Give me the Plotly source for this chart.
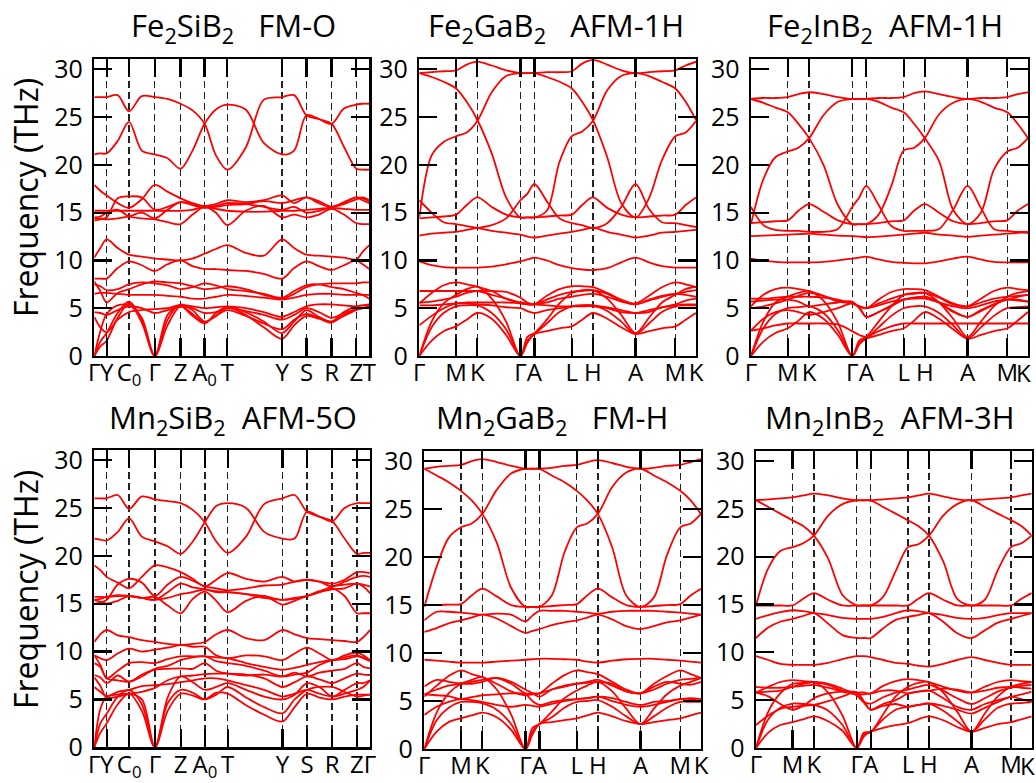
import plotly.graph_objects as go

# ---------------- k-paths (arbitrary path-length units) ----------------
HEX_TICKS = [0, 110, 174, 303, 345, 457, 520, 648, 767, 829]
HEX_LABELS = ["Γ", "M", "K", "Γ", "A", "L", "H", "A", "M", "K"]
HEX_LABELS_EDGE = ["Γ", "M", "K", "Γ", "A", "L", "H", "A", "M", ""]
EDGE_LABEL = "K"
HEX_S = [0, 37, 73, 110, 142, 174, 217, 260, 303, 324, 345, 382, 420, 457,
         488, 520, 563, 605, 648, 688, 727, 767, 798, 829]

ORTHO_TICKS = [0, 37, 104, 181, 258, 330, 398, 562, 635, 710, 784, 823]
ORTHO_LABELS_TOP = ["Γ", "Y", "C<sub>0</sub>", "Γ", "Z", "A<sub>0</sub>", "T", "Y", "S", "R", "Z", "T"]
ORTHO_LABELS_BOT = ["Γ", "Y", "C<sub>0</sub>", "Γ", "Z", "A<sub>0</sub>", "T", "Y", "S", "R", "Z", "Γ"]
ORTHO_S = [0, 18, 37, 70, 104, 142, 181, 219, 258, 294, 330, 364, 398, 453,
           507, 562, 598, 635, 672, 710, 747, 784, 803, 823]

# ---------------- band frequencies (THz) ----------------
FE2SIB2_BANDS = [
    [27.1, 27.1, 27.1, 27.3, 25.6, 27.2, 27.1, 26.9, 26.4, 25.7, 24.3, 21.0, 19.5, 21.8, 26.8, 27.1, 27.3, 25.2, 24.8, 24.3, 25.9, 26.3, 26.4, 26.4],
    [21.1, 21.2, 21.2, 22.5, 24.5, 21.5, 21.1, 20.7, 19.6, 21.5, 24.3, 25.8, 26.3, 25.8, 22.3, 21.1, 21.5, 25.2, 24.8, 24.3, 21.9, 19.6, 19.5, 19.5],
    [17.9, 17.3, 16.8, 16.0, 15.5, 16.4, 17.9, 17.2, 16.5, 16.0, 15.7, 15.9, 16.3, 16.1, 16.3, 16.8, 16.0, 16.6, 16.0, 15.6, 15.9, 16.4, 16.6, 16.3],
    [14.2, 14.3, 14.5, 16.5, 16.7, 16.6, 15.3, 15.6, 16.1, 15.9, 15.6, 15.7, 16.0, 15.9, 15.6, 15.3, 15.6, 15.0, 15.2, 15.6, 16.0, 16.6, 16.3, 16.0],
    [15.2, 15.2, 15.2, 15.2, 15.2, 15.2, 15.2, 15.2, 15.2, 15.3, 15.6, 15.4, 15.2, 15.1, 15.1, 15.2, 15.2, 15.3, 15.4, 15.5, 15.4, 15.3, 15.3, 15.3],
    [14.5, 14.6, 15.0, 15.3, 14.6, 14.4, 14.3, 14.0, 13.8, 14.8, 15.6, 15.0, 13.7, 15.2, 15.7, 14.5, 14.8, 14.5, 14.8, 15.4, 14.8, 13.9, 13.8, 13.8],
    [14.4, 14.4, 14.3, 14.4, 14.6, 15.0, 14.4, 15.3, 16.1, 15.8, 15.5, 15.6, 15.8, 15.9, 16.2, 16.0, 16.3, 16.6, 16.2, 15.6, 16.1, 16.6, 16.5, 16.2],
    [10.3, 11.3, 12.2, 11.3, 10.6, 10.4, 10.2, 10.1, 10.0, 10.2, 10.7, 11.2, 11.6, 10.8, 10.5, 12.2, 11.3, 10.6, 10.5, 10.4, 10.3, 10.1, 10.9, 11.6],
    [8.1, 8.1, 8.1, 9.2, 9.9, 9.5, 8.9, 9.6, 10.0, 9.4, 9.1, 9.1, 9.0, 8.9, 8.6, 8.1, 9.2, 9.9, 9.4, 9.0, 9.5, 10.0, 9.6, 9.1],
    [7.8, 6.8, 5.6, 6.6, 7.0, 7.5, 7.8, 7.7, 7.6, 7.3, 7.0, 7.1, 7.3, 7.0, 6.4, 6.0, 6.5, 7.2, 7.5, 7.6, 7.6, 7.6, 7.7, 7.7],
    [6.5, 6.6, 6.6, 6.5, 6.4, 6.4, 6.4, 6.3, 6.2, 6.0, 6.0, 6.2, 6.4, 6.3, 6.1, 5.9, 6.1, 6.4, 6.5, 6.5, 6.4, 6.4, 6.4, 6.4],
    [0.0, 1.0, 1.6, 4.0, 5.5, 3.5, 0.0, 3.2, 5.2, 4.2, 3.4, 4.5, 5.1, 4.3, 3.0, 1.8, 3.2, 4.2, 3.9, 3.5, 4.3, 4.9, 5.0, 5.1],
    [0.0, 1.5, 2.4, 4.5, 5.7, 3.8, 0.0, 3.8, 5.4, 4.8, 3.6, 4.2, 5.1, 4.6, 3.6, 2.4, 3.6, 4.8, 4.1, 3.6, 4.6, 5.2, 5.3, 5.3],
    [0.0, 2.6, 4.4, 5.3, 5.3, 4.0, 0.0, 4.3, 5.3, 5.2, 5.0, 5.1, 5.2, 5.0, 4.6, 4.1, 4.6, 5.2, 5.4, 5.4, 5.3, 5.2, 5.3, 5.4],
    [4.6, 4.5, 4.3, 4.8, 5.2, 5.0, 4.5, 4.8, 5.2, 5.0, 4.5, 4.6, 5.0, 4.7, 4.3, 3.8, 4.3, 5.0, 4.6, 4.0, 4.5, 4.9, 5.0, 5.2],
    [7.5, 7.3, 6.9, 7.0, 7.5, 7.7, 7.6, 7.4, 7.0, 7.2, 7.6, 7.4, 7.0, 6.8, 6.5, 6.1, 6.8, 7.4, 7.5, 7.2, 7.0, 6.6, 6.4, 6.0],
    [4.1, 3.0, 2.5, 3.8, 4.6, 4.8, 4.9, 5.0, 5.3, 4.4, 3.5, 4.2, 4.8, 4.2, 3.4, 2.8, 3.8, 4.4, 4.0, 3.6, 4.2, 4.8, 5.0, 5.2],
]

MN2SIB2_BANDS = [
    [26.0, 26.0, 26.0, 26.35, 24.9, 26.2, 25.9, 25.7, 25.5, 24.8, 23.5, 21.5, 20.3, 22.0, 25.4, 26.0, 26.35, 24.6, 24.1, 23.6, 25.0, 25.5, 25.5, 25.5],
    [21.8, 21.7, 21.6, 22.5, 23.9, 22.0, 21.5, 21.0, 20.2, 21.5, 23.5, 25.2, 25.5, 25.0, 22.5, 21.8, 21.8, 24.6, 24.1, 23.6, 21.8, 20.2, 20.3, 20.3],
    [19.0, 18.5, 17.8, 17.2, 16.6, 17.8, 19.0, 18.8, 18.3, 17.6, 16.8, 17.5, 18.2, 17.6, 17.3, 17.8, 17.3, 17.5, 17.3, 17.1, 17.5, 18.3, 18.3, 18.2],
    [15.0, 15.1, 15.4, 17.0, 17.6, 17.2, 15.8, 17.0, 17.8, 17.4, 16.8, 16.6, 16.4, 16.6, 16.9, 17.0, 17.3, 17.5, 17.3, 16.8, 17.3, 17.8, 17.9, 17.8],
    [15.7, 15.7, 15.7, 15.9, 15.8, 15.6, 15.4, 16.2, 17.1, 16.7, 16.5, 16.3, 16.2, 16.0, 15.8, 15.4, 15.6, 15.8, 16.2, 16.5, 16.6, 17.1, 16.8, 16.1],
    [15.4, 15.5, 15.7, 15.8, 15.8, 15.6, 15.7, 14.8, 14.0, 15.5, 16.25, 15.3, 14.1, 15.3, 15.8, 14.9, 15.3, 15.8, 16.3, 16.6, 15.8, 14.0, 14.0, 14.0],
    [15.4, 15.2, 15.0, 15.3, 15.8, 15.6, 15.4, 15.6, 16.0, 16.2, 16.5, 16.2, 16.2, 16.0, 15.6, 15.4, 15.5, 15.8, 16.2, 16.8, 17.0, 17.1, 17.0, 16.8],
    [11.0, 11.8, 12.25, 11.7, 11.5, 11.2, 11.0, 10.8, 10.7, 10.8, 11.0, 11.8, 12.25, 11.4, 11.2, 12.25, 11.8, 11.4, 11.3, 11.2, 11.1, 11.0, 11.5, 12.25],
    [9.6, 9.3, 9.1, 9.8, 10.3, 10.0, 10.2, 10.4, 10.7, 10.5, 10.5, 9.6, 9.3, 9.6, 9.5, 9.1, 9.8, 10.4, 9.8, 9.1, 9.6, 9.9, 9.6, 9.1],
    [8.8, 8.4, 7.2, 8.0, 8.8, 8.9, 8.8, 9.2, 9.5, 9.5, 9.5, 9.4, 9.3, 8.8, 8.4, 8.1, 8.3, 8.6, 8.9, 9.1, 9.2, 9.5, 9.4, 9.1],
    [7.55, 7.3, 6.7, 7.5, 6.85, 7.6, 8.1, 8.2, 8.25, 8.2, 8.8, 8.0, 7.7, 7.5, 7.6, 7.4, 7.8, 7.4, 7.8, 8.0, 8.2, 8.8, 8.4, 8.25],
    [6.3, 5.8, 5.3, 5.8, 6.0, 6.4, 6.5, 6.6, 6.8, 7.0, 7.2, 7.2, 7.0, 6.5, 6.0, 5.3, 5.6, 6.0, 5.6, 5.3, 5.6, 6.0, 6.3, 7.0],
    [0.0, 1.5, 2.5, 4.5, 5.6, 3.8, 0.0, 3.8, 5.6, 5.4, 5.0, 5.7, 5.6, 4.4, 3.4, 2.7, 4.2, 5.6, 5.2, 5.0, 5.3, 5.5, 5.5, 5.5],
    [0.0, 2.5, 3.5, 5.3, 6.0, 4.5, 0.0, 4.6, 6.0, 5.7, 5.0, 5.5, 6.3, 5.2, 4.2, 3.55, 5.0, 6.0, 6.3, 6.3, 5.8, 5.3, 5.4, 5.5],
    [0.0, 4.0, 5.3, 5.5, 5.6, 5.0, 0.0, 5.2, 7.4, 6.8, 6.0, 6.3, 6.7, 6.0, 5.3, 5.0, 5.5, 6.7, 6.3, 5.3, 6.0, 6.7, 6.7, 7.0],
    [7.3, 6.4, 5.2, 5.3, 5.6, 5.8, 6.2, 7.0, 7.4, 7.5, 7.65, 7.7, 7.7, 7.6, 7.2, 6.3, 6.8, 7.4, 7.1, 6.7, 7.2, 7.7, 7.6, 7.55],
    [9.6, 8.6, 7.2, 7.0, 6.85, 7.4, 8.2, 8.5, 9.1, 9.4, 9.5, 9.0, 8.8, 8.5, 8.0, 7.4, 7.6, 7.8, 8.6, 9.1, 9.4, 9.6, 9.3, 9.0],
]

FE2GAB2_BANDS = [
    [29.6, 29.7, 29.8, 29.9, 30.5, 30.8, 30.4, 29.9, 29.6, 29.6, 29.6, 29.7, 29.7, 29.8, 30.6, 31.0, 30.5, 29.9, 29.6, 29.7, 29.8, 29.9, 30.4, 30.8],
    [29.6, 29.2, 28.7, 28.0, 26.6, 24.7, 21.2, 16.6, 14.5, 14.5, 14.5, 15.2, 20.3, 23.0, 23.5, 24.6, 27.8, 29.3, 29.6, 29.3, 28.7, 28.0, 26.6, 24.7],
    [14.5, 21.0, 22.4, 23.0, 23.4, 24.6, 27.6, 29.3, 29.6, 29.6, 29.6, 29.2, 28.7, 28.0, 26.6, 24.7, 20.8, 16.0, 14.5, 16.5, 20.5, 23.0, 23.4, 24.6],
    [14.4, 14.5, 14.6, 14.8, 15.8, 16.6, 15.6, 14.8, 14.5, 14.5, 14.5, 14.6, 14.7, 14.8, 15.8, 16.6, 15.5, 14.8, 14.5, 14.6, 14.7, 14.8, 15.8, 16.6],
    [12.6, 12.8, 12.9, 13.0, 13.2, 13.4, 13.7, 14.4, 16.3, 17.0, 18.0, 16.2, 14.4, 13.9, 13.7, 13.4, 13.9, 15.6, 18.0, 15.4, 14.0, 13.9, 13.7, 13.5],
    [16.3, 15.0, 14.0, 13.8, 13.6, 13.4, 13.1, 12.9, 12.7, 12.5, 12.4, 12.6, 12.8, 13.0, 13.2, 13.4, 13.0, 12.7, 12.4, 12.6, 12.9, 13.0, 13.1, 13.2],
    [9.9, 9.5, 9.3, 9.25, 9.25, 9.25, 9.35, 9.6, 9.9, 10.1, 10.3, 10.0, 9.5, 9.2, 9.05, 9.0, 9.2, 9.8, 10.3, 9.8, 9.4, 9.25, 9.25, 9.25],
    [0.0, 1.6, 2.6, 3.1, 3.8, 4.5, 3.9, 2.2, 0.0, 1.4, 2.3, 2.6, 2.9, 3.1, 3.8, 4.5, 3.9, 3.0, 2.3, 2.6, 2.9, 3.1, 3.8, 4.5],
    [0.0, 3.0, 4.5, 5.2, 5.3, 5.3, 4.5, 2.8, 0.0, 1.6, 2.3, 3.4, 4.6, 5.2, 5.3, 5.3, 4.7, 3.6, 2.3, 3.4, 4.6, 5.2, 5.3, 5.3],
    [0.0, 3.6, 5.5, 6.4, 7.0, 7.25, 6.0, 3.6, 0.0, 2.0, 2.4, 3.8, 5.5, 6.6, 6.9, 6.9, 6.0, 4.3, 2.4, 4.0, 5.6, 6.4, 7.0, 7.25],
    [3.2, 4.2, 5.0, 5.5, 5.6, 5.6, 5.6, 5.6, 5.5, 5.4, 5.4, 5.6, 6.0, 6.2, 6.4, 6.5, 6.2, 5.7, 5.4, 5.9, 6.3, 6.5, 6.4, 6.2],
    [5.5, 6.6, 7.4, 7.7, 7.5, 7.25, 6.8, 6.0, 5.5, 5.4, 5.4, 6.3, 7.0, 7.3, 7.3, 7.2, 6.6, 5.9, 5.5, 6.3, 7.2, 7.7, 7.5, 7.2],
    [6.8, 6.8, 6.8, 6.8, 6.8, 6.8, 6.8, 6.7, 6.1, 5.6, 5.4, 5.9, 6.4, 6.7, 6.8, 6.9, 6.5, 5.8, 5.4, 5.8, 6.2, 6.5, 6.7, 6.9],
    [5.6, 5.7, 5.9, 6.2, 6.6, 6.8, 6.4, 6.0, 5.6, 5.5, 5.4, 5.3, 5.2, 5.2, 5.2, 5.2, 5.0, 4.6, 4.5, 4.6, 5.1, 5.4, 5.8, 6.0],
    [5.3, 5.3, 5.4, 5.5, 5.5, 5.4, 5.3, 5.1, 5.0, 4.7, 4.5, 4.8, 5.0, 5.2, 5.3, 5.3, 5.1, 4.8, 4.5, 4.8, 5.1, 5.3, 5.4, 5.4],
]

FE2INB2_BANDS = [
    [26.9, 27.0, 27.0, 27.1, 27.4, 27.6, 27.4, 27.1, 26.9, 26.9, 26.9, 27.0, 27.0, 27.1, 27.5, 27.7, 27.4, 27.1, 26.9, 27.0, 27.0, 27.1, 27.4, 27.6],
    [26.9, 26.5, 26.0, 25.5, 24.3, 22.8, 20.0, 15.8, 13.8, 13.8, 13.8, 14.8, 17.8, 21.5, 21.8, 22.8, 25.3, 26.5, 26.9, 26.6, 26.0, 25.5, 24.3, 22.8],
    [13.8, 18.5, 20.8, 21.4, 21.8, 22.8, 25.2, 26.6, 26.9, 26.9, 26.9, 26.6, 26.0, 25.5, 24.3, 22.8, 20.4, 15.3, 13.8, 15.0, 19.5, 21.4, 21.8, 22.8],
    [13.9, 14.0, 14.1, 14.2, 15.2, 15.9, 15.1, 14.2, 13.8, 13.8, 13.8, 13.9, 14.1, 14.2, 15.2, 15.9, 15.0, 14.1, 13.8, 13.9, 14.1, 14.2, 15.2, 15.9],
    [15.6, 13.7, 13.2, 13.1, 13.1, 13.0, 13.0, 13.3, 15.6, 16.6, 17.8, 15.8, 13.6, 13.1, 13.1, 13.1, 13.3, 15.3, 17.8, 15.5, 13.3, 13.1, 13.0, 13.0],
    [12.55, 12.6, 12.65, 12.7, 12.75, 12.8, 12.7, 12.6, 12.55, 12.5, 12.45, 12.5, 12.6, 12.7, 12.8, 12.9, 12.7, 12.6, 12.45, 12.6, 12.7, 12.8, 12.9, 12.9],
    [10.2, 10.0, 9.85, 9.8, 9.8, 9.8, 9.85, 10.0, 10.2, 10.3, 10.4, 10.1, 9.85, 9.75, 9.7, 9.7, 9.9, 10.2, 10.4, 10.1, 9.85, 9.8, 9.8, 9.8],
    [0.0, 1.5, 2.4, 2.9, 3.7, 4.6, 3.9, 2.2, 0.0, 1.2, 1.8, 2.2, 2.6, 2.9, 3.7, 4.6, 3.9, 2.8, 1.8, 2.2, 2.6, 2.9, 3.7, 4.6],
    [0.0, 2.9, 4.4, 5.0, 5.1, 5.2, 4.5, 2.7, 0.0, 1.4, 1.85, 3.0, 4.2, 5.0, 5.2, 5.2, 4.5, 3.2, 1.85, 3.0, 4.2, 5.0, 5.1, 5.2],
    [0.0, 3.6, 5.6, 6.2, 6.6, 6.8, 5.8, 3.5, 0.0, 1.6, 2.0, 3.6, 5.2, 6.4, 6.6, 6.6, 5.6, 3.9, 2.0, 3.6, 5.2, 6.2, 6.6, 6.8],
    [2.65, 2.9, 3.2, 3.4, 3.4, 3.4, 3.4, 3.3, 2.6, 2.2, 2.0, 2.6, 3.1, 3.4, 3.4, 3.4, 3.4, 3.4, 3.4, 3.4, 3.4, 3.4, 3.4, 3.4],
    [2.65, 3.9, 4.6, 4.8, 4.6, 4.3, 4.6, 5.0, 5.5, 5.1, 4.1, 4.6, 5.3, 5.9, 6.1, 6.2, 5.6, 4.7, 4.1, 4.8, 5.4, 5.9, 5.8, 5.7],
    [5.2, 6.4, 7.0, 7.15, 7.0, 6.8, 6.3, 5.7, 5.5, 5.2, 5.0, 5.9, 6.7, 7.0, 7.0, 6.9, 6.2, 5.5, 5.2, 6.0, 6.8, 7.15, 7.0, 6.9],
    [6.0, 6.0, 6.1, 6.2, 6.2, 6.2, 6.1, 5.9, 5.5, 5.2, 5.0, 5.5, 6.0, 6.4, 6.5, 6.6, 6.1, 5.4, 5.2, 5.6, 6.0, 6.2, 6.3, 6.4],
    [5.7, 5.8, 5.9, 5.9, 5.7, 5.2, 5.4, 5.6, 5.7, 5.0, 4.1, 4.6, 5.2, 5.9, 6.1, 6.2, 5.6, 4.6, 4.1, 4.7, 5.4, 5.9, 5.9, 5.7],
    [5.0, 5.2, 5.5, 5.9, 6.3, 6.6, 6.3, 5.8, 5.5, 5.2, 5.0, 5.3, 5.7, 5.9, 6.0, 6.0, 5.6, 5.2, 5.0, 5.3, 5.7, 5.9, 6.2, 6.4],
]

MN2GAB2_BANDS = [
    [29.2, 29.4, 29.5, 29.6, 30.0, 30.2, 29.9, 29.5, 29.2, 29.2, 29.2, 29.3, 29.5, 29.6, 29.9, 30.1, 29.8, 29.4, 29.2, 29.3, 29.5, 29.6, 29.9, 30.2],
    [29.2, 28.5, 27.8, 26.9, 25.9, 24.5, 21.5, 16.8, 14.8, 14.8, 14.8, 16.0, 20.5, 23.1, 23.5, 24.5, 27.3, 28.8, 29.2, 28.5, 27.8, 26.9, 25.9, 24.5],
    [14.8, 19.0, 22.0, 23.1, 23.5, 24.5, 27.0, 28.7, 29.2, 29.2, 29.2, 28.5, 27.8, 26.9, 25.9, 24.5, 21.0, 16.0, 14.8, 15.8, 20.2, 23.1, 23.5, 24.5],
    [15.0, 15.0, 15.05, 15.1, 16.0, 16.7, 15.9, 15.0, 14.8, 14.8, 14.8, 14.9, 15.0, 15.1, 16.0, 16.7, 15.8, 15.0, 14.8, 14.9, 15.0, 15.1, 16.0, 16.7],
    [13.4, 14.3, 14.3, 14.2, 14.1, 14.0, 14.1, 14.0, 13.3, 13.9, 14.4, 14.4, 14.4, 14.3, 14.2, 14.1, 14.3, 14.4, 14.4, 14.4, 14.3, 14.2, 14.1, 14.0],
    [12.2, 12.6, 13.1, 13.4, 13.7, 14.0, 13.6, 12.8, 12.1, 12.3, 12.5, 12.9, 13.2, 13.4, 13.7, 14.0, 13.5, 12.8, 12.5, 12.8, 13.2, 13.4, 13.7, 14.0],
    [9.3, 9.2, 9.1, 9.0, 9.0, 9.0, 9.1, 9.2, 9.3, 9.35, 9.4, 9.4, 9.35, 9.3, 9.1, 9.0, 9.2, 9.35, 9.4, 9.4, 9.3, 9.2, 9.1, 9.0],
    [0.0, 1.8, 2.8, 3.2, 3.5, 3.8, 3.3, 2.0, 0.0, 1.5, 2.6, 2.8, 3.0, 3.2, 3.5, 3.8, 3.4, 2.9, 2.6, 2.8, 3.0, 3.2, 3.5, 3.8],
    [0.0, 3.0, 4.3, 4.9, 4.9, 4.75, 4.1, 2.6, 0.0, 1.8, 2.6, 3.3, 4.3, 4.9, 5.0, 5.1, 4.4, 3.4, 2.6, 3.4, 4.3, 4.9, 4.9, 4.9],
    [0.0, 3.8, 5.8, 6.8, 7.2, 7.5, 6.2, 3.6, 0.0, 2.2, 2.6, 3.9, 5.3, 6.1, 6.6, 7.0, 6.0, 4.2, 2.6, 4.2, 5.7, 6.6, 7.0, 7.4],
    [3.55, 4.4, 4.9, 5.2, 5.1, 4.9, 4.6, 4.4, 4.6, 4.5, 4.4, 4.7, 5.0, 5.2, 5.3, 5.45, 5.0, 4.6, 4.4, 4.6, 4.9, 5.2, 5.2, 5.0],
    [5.45, 6.6, 7.6, 8.2, 7.8, 7.5, 6.8, 6.0, 5.6, 5.7, 5.8, 6.8, 7.7, 8.2, 8.0, 7.8, 7.0, 6.2, 5.8, 6.8, 7.6, 8.2, 7.8, 7.4],
    [5.7, 6.2, 6.6, 6.8, 7.0, 7.2, 7.4, 7.0, 6.2, 5.8, 5.45, 6.2, 6.6, 6.8, 6.9, 7.0, 6.8, 6.0, 5.8, 6.2, 6.8, 7.2, 7.3, 7.4],
    [6.5, 7.2, 7.0, 6.8, 6.8, 7.0, 7.4, 6.8, 5.8, 5.8, 5.8, 6.2, 6.5, 6.8, 7.0, 7.2, 6.6, 6.0, 5.8, 6.5, 7.0, 6.8, 6.7, 7.0],
    [5.7, 5.6, 5.5, 5.2, 5.4, 5.6, 5.7, 5.8, 5.7, 5.0, 4.6, 4.9, 5.1, 5.2, 5.3, 5.45, 5.3, 4.9, 4.6, 4.9, 5.0, 5.2, 5.3, 5.2],
]

MN2INB2_BANDS = [
    [25.9, 26.0, 26.1, 26.2, 26.4, 26.6, 26.4, 26.1, 25.9, 25.9, 25.9, 26.0, 26.1, 26.2, 26.4, 26.6, 26.3, 26.0, 25.9, 26.0, 26.1, 26.2, 26.4, 26.6],
    [25.9, 25.2, 24.5, 23.8, 23.2, 22.2, 19.8, 16.0, 14.9, 14.9, 14.9, 15.8, 18.5, 21.0, 21.3, 22.2, 24.3, 25.5, 25.9, 25.2, 24.5, 23.8, 23.2, 22.2],
    [14.9, 18.8, 20.6, 21.0, 21.4, 22.2, 24.3, 25.5, 25.9, 25.9, 25.9, 25.2, 24.5, 23.8, 23.2, 22.2, 19.5, 15.6, 14.9, 15.5, 18.6, 21.0, 21.4, 22.2],
    [14.9, 14.9, 14.9, 14.9, 15.6, 16.2, 15.5, 14.9, 14.9, 14.9, 14.9, 14.9, 14.9, 14.9, 15.6, 16.2, 15.5, 14.9, 14.9, 14.9, 14.9, 14.9, 15.6, 16.2],
    [13.5, 13.9, 14.2, 14.4, 14.3, 14.1, 13.9, 13.6, 13.5, 13.5, 13.5, 13.7, 14.1, 14.4, 14.3, 14.1, 13.9, 13.6, 13.5, 13.6, 13.9, 14.1, 14.1, 14.1],
    [11.5, 12.6, 13.2, 13.5, 13.8, 14.1, 13.0, 11.8, 11.5, 11.5, 11.5, 12.5, 13.4, 13.7, 13.9, 14.1, 13.2, 12.0, 11.5, 12.3, 13.1, 13.5, 13.8, 14.1],
    [9.6, 9.2, 8.8, 8.7, 8.7, 8.7, 8.9, 9.3, 9.6, 9.6, 9.5, 9.2, 8.9, 8.8, 8.6, 8.5, 8.8, 9.2, 9.5, 9.2, 8.9, 8.7, 8.7, 8.7],
    [0.0, 1.6, 2.4, 2.7, 3.0, 3.3, 2.8, 1.8, 0.0, 1.2, 1.7, 2.1, 2.4, 2.6, 3.0, 3.3, 2.9, 2.2, 1.7, 2.1, 2.5, 2.7, 3.0, 3.3],
    [0.0, 3.0, 4.2, 4.65, 4.6, 4.5, 3.9, 2.4, 0.0, 1.4, 1.7, 3.0, 4.0, 4.3, 4.5, 4.65, 3.9, 2.8, 1.7, 3.0, 4.2, 4.65, 4.7, 4.8],
    [0.0, 3.8, 5.7, 6.7, 6.8, 6.9, 5.8, 3.4, 0.0, 1.6, 1.7, 3.5, 5.4, 6.4, 6.8, 6.9, 5.8, 3.8, 1.7, 3.6, 5.4, 6.4, 6.7, 6.9],
    [2.4, 3.4, 4.1, 4.3, 4.4, 4.5, 4.9, 5.4, 5.8, 4.9, 4.0, 4.4, 4.6, 4.3, 4.5, 4.65, 4.4, 4.0, 3.6, 4.2, 4.8, 5.35, 5.1, 4.8],
    [5.8, 6.4, 6.9, 7.1, 7.0, 6.9, 6.6, 6.0, 5.8, 5.8, 5.7, 6.5, 7.0, 7.2, 7.1, 6.9, 6.4, 6.0, 5.8, 6.4, 6.9, 7.1, 7.0, 6.9],
    [6.4, 6.3, 6.3, 6.4, 6.5, 6.6, 6.3, 5.9, 5.6, 5.6, 5.7, 6.0, 6.0, 5.7, 5.9, 6.0, 6.2, 6.1, 5.8, 6.0, 6.3, 6.4, 6.3, 6.2],
    [5.8, 5.4, 4.6, 4.0, 4.4, 5.2, 5.7, 5.9, 5.8, 4.8, 4.0, 4.6, 5.0, 5.7, 5.9, 6.0, 5.2, 4.3, 4.0, 4.6, 5.0, 5.35, 5.6, 5.9],
    [5.8, 5.9, 6.0, 6.4, 6.7, 6.9, 6.7, 6.2, 5.5, 4.8, 4.65, 5.3, 5.8, 6.1, 6.4, 6.6, 6.0, 5.2, 4.6, 5.2, 5.9, 6.3, 6.5, 6.6],
]

TITLES = [
    "Fe<sub>2</sub>SiB<sub>2</sub>\u00a0\u00a0\u00a0FM-O",
    "Fe<sub>2</sub>GaB<sub>2</sub>\u00a0\u00a0\u00a0AFM-1H",
    "Fe<sub>2</sub>InB<sub>2</sub>\u00a0\u00a0AFM-1H",
    "Mn<sub>2</sub>SiB<sub>2</sub>\u00a0\u00a0AFM-5O",
    "Mn<sub>2</sub>GaB<sub>2</sub>\u00a0\u00a0\u00a0FM-H",
    "Mn<sub>2</sub>InB<sub>2</sub>\u00a0\u00a0AFM-3H",
]
Y_TICKS = [0, 5, 10, 15, 20, 25, 30]
Y_TITLE = "Frequency (THz)"

# ---------------- layout geometry (pixels) ----------------
W, H = 1036, 783
PANELS = [
    (94.3, 369.3, 59.3, 356.0, "o", FE2SIB2_BANDS, ORTHO_LABELS_TOP, 233, 27),
    (419.3, 696.0, 59.3, 356.0, "h", FE2GAB2_BANDS, HEX_LABELS, 556, 27),
    (751.0, 1028.0, 59.3, 356.0, "h", FE2INB2_BANDS, HEX_LABELS_EDGE, 885, 27),
    (94.3, 370.0, 450.0, 747.3, "o", MN2SIB2_BANDS, ORTHO_LABELS_BOT, 233, 419),
    (424.3, 701.0, 451.0, 749.0, "h", MN2GAB2_BANDS, HEX_LABELS, 552, 419),
    (756.0, 1031.7, 451.0, 748.0, "h", MN2INB2_BANDS, HEX_LABELS_EDGE, 890, 419),
]
# centre of the right-edge "K" label, pulled inside the page as in the original
EDGE_LABEL_POS = [(1023.5, 373), (1027, 765)]

FONT = "Open Sans"
fig = go.Figure()
layout = dict(
    width=W, height=H, margin=dict(l=0, r=0, t=0, b=0, autoexpand=False),
    paper_bgcolor="white", plot_bgcolor="white", showlegend=False,
    font=dict(family=FONT, color="black"),
)
annotations = []

for i, (x0, x1, yt, yb, kind, bands, labels, tx, ty) in enumerate(PANELS):
    n = i + 1
    xa = "x" if n == 1 else f"x{n}"
    ya = "y" if n == 1 else f"y{n}"
    ticks = ORTHO_TICKS if kind == "o" else HEX_TICKS
    samples = ORTHO_S if kind == "o" else HEX_S
    for band in bands:
        fig.add_trace(go.Scatter(
            x=samples, y=band, mode="lines", xaxis=xa, yaxis=ya,
            line=dict(color="#ff0000", width=1.8, shape="spline", smoothing=0.9),
            hoverinfo="skip",
        ))
    layout["xaxis" if n == 1 else f"xaxis{n}"] = dict(
        domain=[x0 / W, x1 / W], anchor=ya, range=[ticks[0], ticks[-1]],
        tickmode="array", tickvals=ticks, ticktext=labels, tickangle=0,
        ticks="inside", ticklen=18, tickwidth=2.2, tickcolor="black",
        showline=True, linewidth=2.4, linecolor="black", mirror="ticks",
        showgrid=True, gridcolor="#222222", gridwidth=1.3, griddash="7px,4px",
        zeroline=False, tickfont=dict(size=24, family=FONT, color="black"),
        ticklabelstandoff=-6, ticklabeloverflow="allow",
        automargin=False, fixedrange=True,
    )
    layout["yaxis" if n == 1 else f"yaxis{n}"] = dict(
        domain=[1 - yb / H, 1 - yt / H], anchor=xa, range=[0, 31.05],
        tickmode="array", tickvals=Y_TICKS,
        ticks="inside", ticklen=18, tickwidth=2.2, tickcolor="black",
        showline=True, linewidth=2.4, linecolor="black", mirror="ticks",
        showgrid=False, zeroline=False,
        tickfont=dict(size=25, family=FONT, color="black"),
        ticklabelstandoff=4, automargin=False, fixedrange=True,
    )
    annotations.append(dict(
        text=TITLES[i], x=tx / W, y=1 - ty / H, xref="paper", yref="paper",
        xanchor="center", yanchor="middle", showarrow=False,
        font=dict(size=31, family=FONT, color="black"),
    ))

for ex, ey in EDGE_LABEL_POS:
    annotations.append(dict(
        text=EDGE_LABEL, x=ex / W, y=1 - ey / H, xref="paper", yref="paper",
        xanchor="center", yanchor="middle", showarrow=False,
        font=dict(size=24, family=FONT, color="black"),
    ))

for ycen in (198, 590):
    annotations.append(dict(
        text=Y_TITLE, x=25 / W, y=1 - ycen / H, xref="paper", yref="paper",
        xanchor="center", yanchor="middle", showarrow=False, textangle=-90,
        font=dict(size=32, family=FONT, color="black"),
    ))

layout["annotations"] = annotations
fig.update_layout(**layout)
fig.write_html(
    "out.html",
    config={"displayModeBar": False, "staticPlot": True},
    post_script="document.body.style.margin='0px';document.body.style.overflow='hidden';",
)
